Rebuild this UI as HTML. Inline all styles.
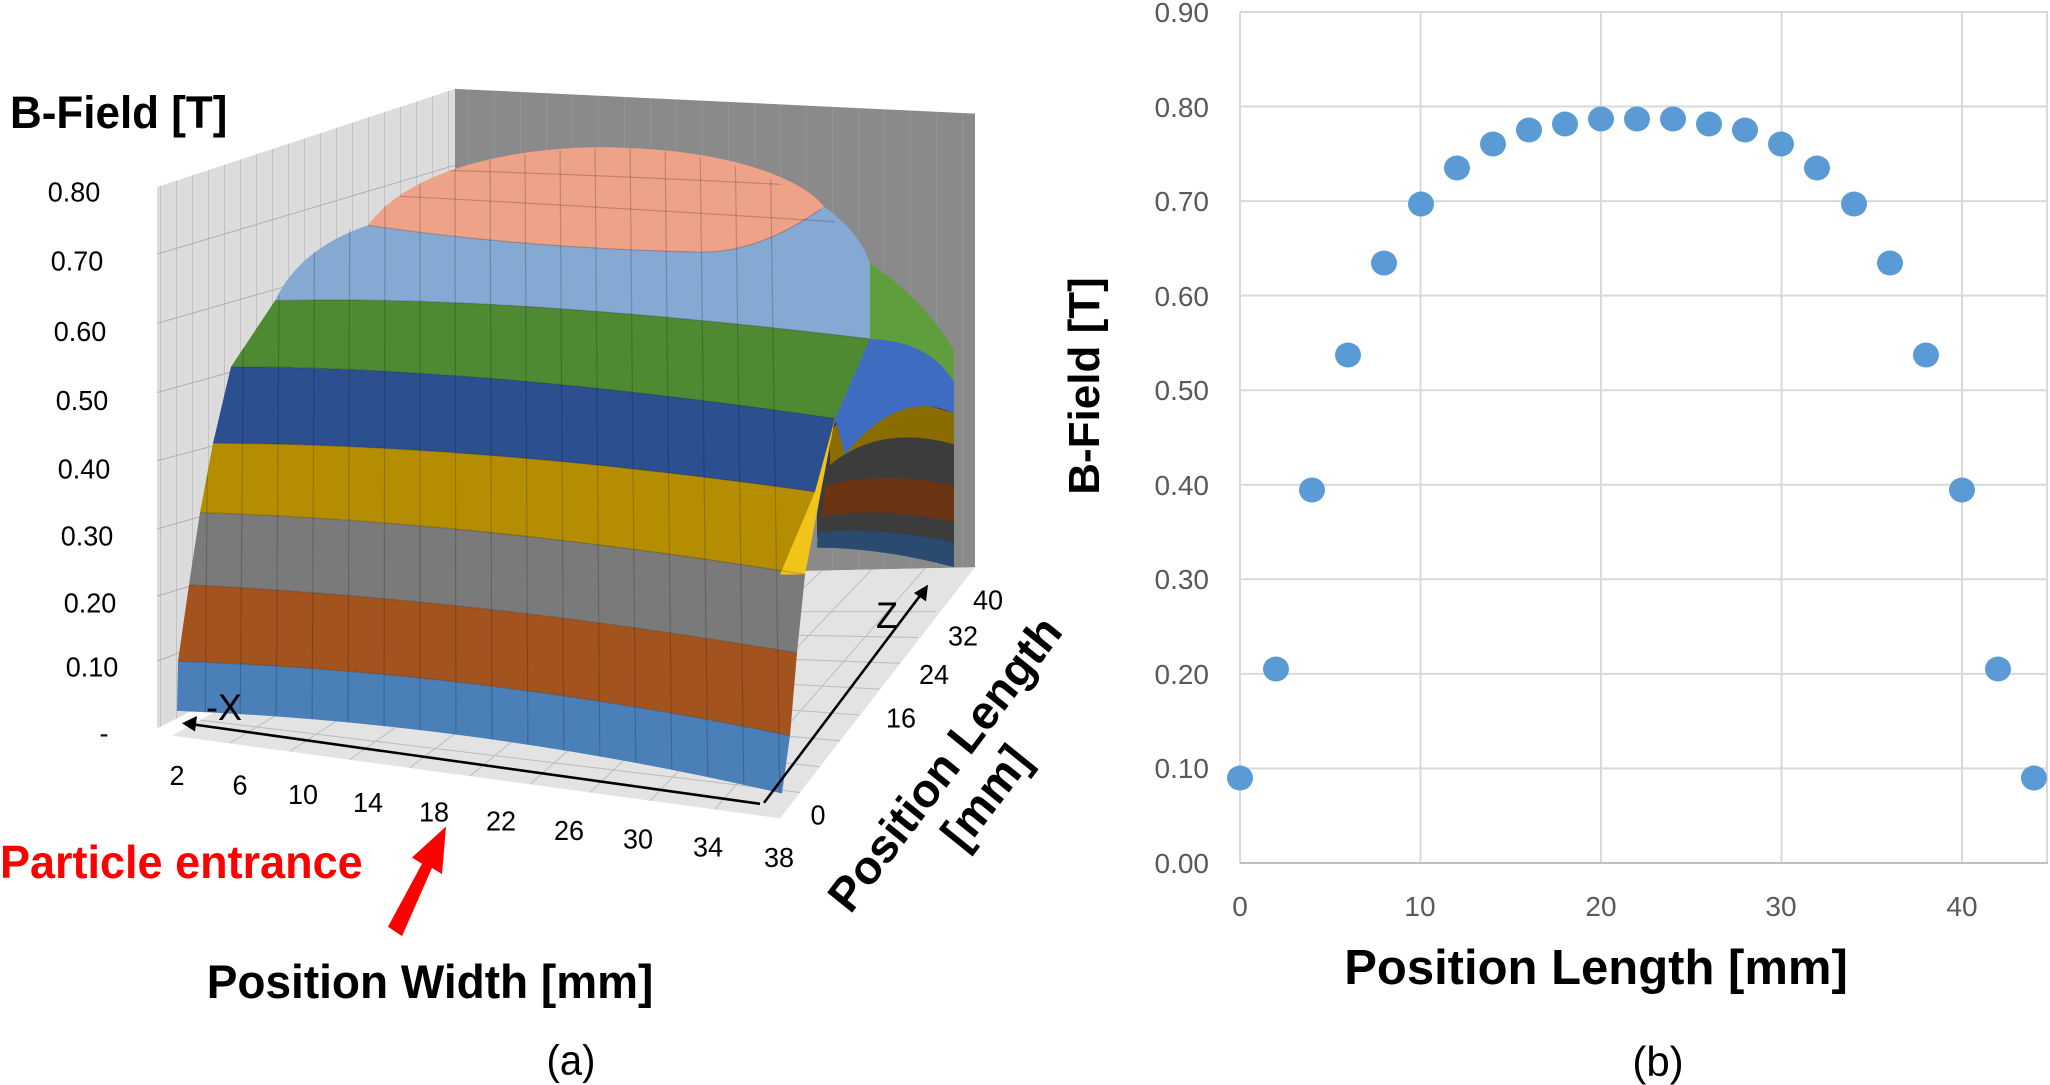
<!DOCTYPE html>
<html><head><meta charset="utf-8"><style>
html,body{margin:0;padding:0;background:#fff;}
svg{display:block;font-family:"Liberation Sans",sans-serif;}
</style></head><body>
<svg width="2050" height="1085" viewBox="0 0 2050 1085" xmlns="http://www.w3.org/2000/svg">
<defs>
<pattern id="gl" width="16" height="2000" patternUnits="userSpaceOnUse"><rect width="16" height="2000" fill="#dcdcdc"/><line x1="0" y1="0" x2="0" y2="2000" stroke="#a8a8a8" stroke-width="1"/></pattern>
<pattern id="gb" width="26" height="2000" patternUnits="userSpaceOnUse"><rect width="26" height="2000" fill="#8a8a8a"/><line x1="0" y1="0" x2="0" y2="2000" stroke="#9a9a9a" stroke-width="1"/></pattern>
<clipPath id="front"><path d="M177,688 Q480,700 782,768 L790,712 L797,632 L805,556 L815,476 L835,405 L870,328 L870,255 Q800,150 620,143 Q420,145 368,218 L330,225 L275,291 L231,355 L213,429 L200,496 L189,566 L178,640 Z"/></clipPath>
</defs>
<g transform="scale(1.0,1.0332)">
<polygon points="157,181 455,86 455,560 157,705" fill="url(#gl)"/>
<g stroke="#b0b0b0" stroke-width="1">
<line x1="157" y1="246" x2="455" y2="160"/><line x1="157" y1="313" x2="455" y2="230"/><line x1="157" y1="380" x2="455" y2="300"/><line x1="157" y1="446" x2="455" y2="370"/><line x1="157" y1="512" x2="455" y2="430"/><line x1="157" y1="577" x2="455" y2="490"/><line x1="157" y1="640" x2="455" y2="530"/>
</g>
<polygon points="455,86 975,110 975,549 455,560" fill="url(#gb)"/>
<polygon points="172,712 455,560 975,549 780,792" fill="#e3e3e3"/>
<g stroke="#bdbdbd" stroke-width="1">
<line x1="230" y1="719" x2="507" y2="559"/><line x1="290" y1="727" x2="560" y2="558"/><line x1="350" y1="735" x2="612" y2="557"/><line x1="410" y1="743" x2="665" y2="556"/><line x1="470" y1="751" x2="717" y2="555"/><line x1="530" y1="759" x2="770" y2="554"/><line x1="590" y1="767" x2="822" y2="552"/><line x1="650" y1="775" x2="872" y2="551"/><line x1="715" y1="783" x2="925" y2="550"/>
<line x1="200" y1="697" x2="800" y2="767"/><line x1="228" y1="682" x2="820" y2="742"/><line x1="256" y1="667" x2="840" y2="717"/><line x1="284" y1="652" x2="860" y2="692"/><line x1="312" y1="637" x2="880" y2="667"/><line x1="340" y1="622" x2="900" y2="642"/><line x1="368" y1="607" x2="918" y2="617"/><line x1="396" y1="592" x2="936" y2="592"/>
</g>
<path d="M817,500 Q825,380 880,355 Q935,345 954,380 L954,549 Q880,520 817,520 Z" fill="#3c3c3c"/>
<path d="M830,420 Q860,370 954,400 L954,430 Q880,410 830,450 Z" fill="#8a6c00"/>
<path d="M825,470 Q880,455 954,470 L954,505 Q880,490 822,500 Z" fill="#6b3413"/>
<path d="M818,515 Q880,510 954,525 L954,549 Q880,530 817,530 Z" fill="#2a4a70"/>
<path d="M835,405 L870,328 Q930,330 954,370 L954,400 Q900,375 845,440 Z" fill="#3d6cc0"/>
<path d="M870,255 Q925,290 954,340 L954,370 Q930,330 870,328 Z" fill="#5f9e3c"/>
<path d="M177,688 Q480,700 782,768 L790,712 Q480,650 178,640 Z" fill="#4a7fb8"/>
<path d="M178,640 Q480,650 790,712 L797,632 Q480,580 189,566 Z" fill="#a3531e"/>
<path d="M189,566 Q480,580 797,632 L805,556 Q480,505 200,496 Z" fill="#7a7a7a"/>
<path d="M200,496 Q480,505 805,556 L815,476 Q480,430 213,429 Z" fill="#b58d00"/>
<path d="M213,429 Q480,430 815,476 L835,405 Q480,355 231,355 Z" fill="#2c4f8f"/>
<path d="M231,355 Q480,355 835,405 L870,328 Q500,285 275,291 Z" fill="#4e8a32"/>
<path d="M275,291 Q300,240 368,218 Q520,240 700,244 Q760,245 824,200 Q860,225 870,255 L870,328 Q500,285 275,291 Z" fill="#86a9d4"/>
<path d="M368,218 C420,150 560,140 620,143 C720,145 800,170 824,200 Q760,245 700,244 Q520,240 368,218 Z" fill="#eea287"/>
<path d="M780,556 L815,476 L835,405 L805,556 Z" fill="#f0c419"/>
<g clip-path="url(#front)" stroke="rgba(0,0,0,0.18)" stroke-width="1.2" fill="none">
<path d="M210,130 L205,720"/><path d="M245,130 L240,720"/><path d="M280,130 L276,725"/><path d="M315,130 L312,730"/><path d="M350,130 L348,735"/><path d="M385,130 L384,738"/><path d="M420,130 L420,742"/><path d="M455,130 L456,746"/><path d="M490,130 L492,750"/><path d="M525,130 L528,754"/><path d="M560,130 L564,758"/><path d="M595,130 L600,762"/><path d="M630,130 L636,766"/><path d="M665,130 L672,770"/><path d="M700,130 L708,774"/><path d="M735,130 L744,778"/><path d="M770,130 L780,782"/>
<path d="M178,640 Q480,650 790,712"/><path d="M189,566 Q480,580 797,632"/><path d="M200,496 Q480,505 805,556"/><path d="M213,429 Q480,430 815,476"/><path d="M231,355 Q480,355 835,405"/><path d="M275,291 Q500,285 870,328"/><path d="M368,218 Q520,240 700,244 Q760,245 824,200"/>
<path d="M400,190 Q600,200 840,215"/><path d="M450,165 Q620,170 810,180"/>
</g>
<g stroke="#000" stroke-width="2.5" fill="#000">
<line x1="760" y1="778" x2="192" y2="701"/><polygon points="182,700 197,693 195,708" stroke="none"/>
<line x1="764" y1="777" x2="922" y2="574"/><polygon points="928,566 926,582 914,574" stroke="none"/>
</g>
<text x="224" y="697" font-size="36" text-anchor="middle">-X</text>
<text x="887" y="608" font-size="36" text-anchor="middle">Z</text>
<g font-size="27" fill="#000" text-anchor="middle">
<text x="74" y="195">0.80</text><text x="77" y="262">0.70</text><text x="80" y="330">0.60</text><text x="82" y="397">0.50</text><text x="84" y="463">0.40</text><text x="87" y="528">0.30</text><text x="90" y="593">0.20</text><text x="92" y="655">0.10</text><text x="104" y="719">-</text>
<text x="177" y="760">2</text><text x="240" y="769">6</text><text x="303" y="778">10</text><text x="368" y="786">14</text><text x="434" y="795">18</text><text x="501" y="804">22</text><text x="569" y="813">26</text><text x="638" y="821">30</text><text x="708" y="829">34</text><text x="779" y="839">38</text>
<text x="818" y="798">0</text><text x="901" y="704">16</text><text x="934" y="662">24</text><text x="963" y="625">32</text><text x="988" y="590">40</text>
</g>
<text x="10" y="124" font-size="44" font-weight="bold">B-Field [T]</text>
<text x="0" y="850" font-size="45" font-weight="bold" fill="#ff0000">Particle entrance</text>
<polygon points="388,897 402,906 432,840 442,846 446,800 412,830 422,836" fill="#ff0000"/>
<text x="430" y="966" font-size="46" font-weight="bold" text-anchor="middle">Position Width [mm]</text>
<text x="571" y="1040" font-size="40" text-anchor="middle">(a)</text>
<g transform="translate(965,755) rotate(-52)" font-size="46" font-weight="bold" text-anchor="middle">
<text x="0" y="-10">Position Length</text><text x="0" y="42">[mm]</text>
</g>
</g>
<!-- right chart -->
<g stroke="#d9d9d9" stroke-width="2">
<line x1="1240" y1="768.4" x2="2048" y2="768.4"/><line x1="1240" y1="673.9" x2="2048" y2="673.9"/><line x1="1240" y1="579.3" x2="2048" y2="579.3"/><line x1="1240" y1="484.8" x2="2048" y2="484.8"/><line x1="1240" y1="390.2" x2="2048" y2="390.2"/><line x1="1240" y1="295.6" x2="2048" y2="295.6"/><line x1="1240" y1="201.1" x2="2048" y2="201.1"/><line x1="1240" y1="106.5" x2="2048" y2="106.5"/><line x1="1240" y1="12" x2="2048" y2="12"/>
<line x1="1240" y1="12" x2="1240" y2="863"/><line x1="1420.5" y1="12" x2="1420.5" y2="863"/><line x1="1601" y1="12" x2="1601" y2="863"/><line x1="1781.5" y1="12" x2="1781.5" y2="863"/><line x1="1962" y1="12" x2="1962" y2="863"/><line x1="2047" y1="12" x2="2047" y2="863"/>
</g>
<line x1="1240" y1="863" x2="2048" y2="863" stroke="#bfbfbf" stroke-width="2"/>
<g font-size="28" fill="#595959" text-anchor="end">
<text x="1209" y="873">0.00</text><text x="1209" y="778">0.10</text><text x="1209" y="684">0.20</text><text x="1209" y="589">0.30</text><text x="1209" y="495">0.40</text><text x="1209" y="400">0.50</text><text x="1209" y="306">0.60</text><text x="1209" y="211">0.70</text><text x="1209" y="117">0.80</text><text x="1209" y="22">0.90</text>
</g>
<g font-size="28" fill="#595959" text-anchor="middle">
<text x="1240" y="916">0</text><text x="1420" y="916">10</text><text x="1601" y="916">20</text><text x="1781" y="916">30</text><text x="1962" y="916">40</text>
</g>
<g fill="#5b9bd5">
<ellipse cx="1240" cy="778" rx="13" ry="12.5"/><ellipse cx="1276" cy="669" rx="13" ry="12.5"/><ellipse cx="1312" cy="490" rx="13" ry="12.5"/><ellipse cx="1348" cy="355" rx="13" ry="12.5"/><ellipse cx="1384" cy="263" rx="13" ry="12.5"/><ellipse cx="1421" cy="204" rx="13" ry="12.5"/><ellipse cx="1457" cy="168" rx="13" ry="12.5"/><ellipse cx="1493" cy="144" rx="13" ry="12.5"/><ellipse cx="1529" cy="130" rx="13" ry="12.5"/><ellipse cx="1565" cy="124" rx="13" ry="12.5"/><ellipse cx="1601" cy="119" rx="13" ry="12.5"/><ellipse cx="1637" cy="119" rx="13" ry="12.5"/><ellipse cx="1673" cy="119" rx="13" ry="12.5"/><ellipse cx="1709" cy="124" rx="13" ry="12.5"/><ellipse cx="1745" cy="130" rx="13" ry="12.5"/><ellipse cx="1781" cy="144" rx="13" ry="12.5"/><ellipse cx="1817" cy="168" rx="13" ry="12.5"/><ellipse cx="1854" cy="204" rx="13" ry="12.5"/><ellipse cx="1890" cy="263" rx="13" ry="12.5"/><ellipse cx="1926" cy="355" rx="13" ry="12.5"/><ellipse cx="1962" cy="490" rx="13" ry="12.5"/><ellipse cx="1998" cy="669" rx="13" ry="12.5"/><ellipse cx="2034" cy="778" rx="13" ry="12.5"/>
</g>
<text x="1596" y="984" font-size="49" font-weight="bold" text-anchor="middle">Position Length [mm]</text>
<text transform="translate(1099,386) rotate(-90)" font-size="44" font-weight="bold" text-anchor="middle">B-Field [T]</text>
<text x="1658" y="1076" font-size="42" text-anchor="middle">(b)</text>
</svg>
</body></html>
